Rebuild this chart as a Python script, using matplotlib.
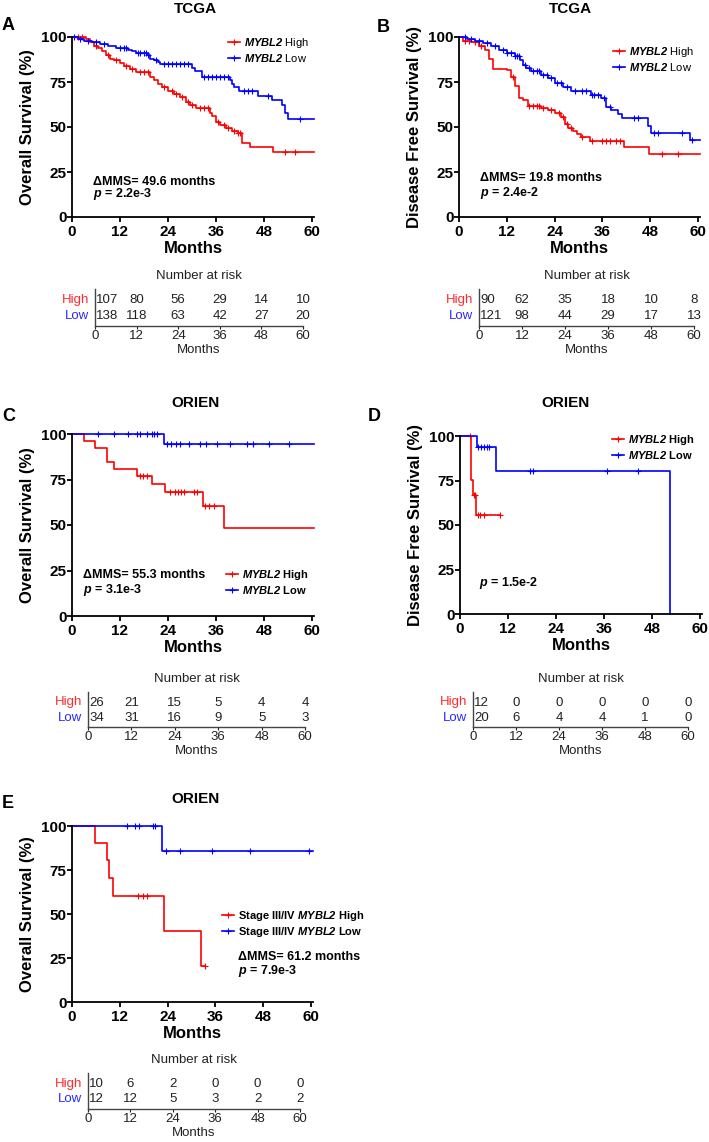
import numpy as np
import matplotlib
matplotlib.use('Agg')
import matplotlib.pyplot as plt
from matplotlib.lines import Line2D

plt.rcParams['font.family'] = ['Liberation Sans', 'DejaVu Sans']
plt.rcParams['mathtext.fontset'] = 'custom'
plt.rcParams['mathtext.rm'] = 'Liberation Sans:italic:bold'
plt.rcParams['mathtext.it'] = 'Liberation Sans:italic:bold'
plt.rcParams['mathtext.bf'] = 'Liberation Sans:italic:bold'

# ---- survival curves (time in months, survival %) ----
A_high_t = [0, 3.5, 4.5, 5.5, 6.5, 7.5, 8.5, 9.5, 10.5, 12, 13, 14.5, 16, 19.5, 20.5, 21.5, 22.5, 24, 25.5, 27,
            28.5, 29.5, 31, 34.5, 35, 36, 37, 38.5, 40, 41.5, 42.6, 44.6, 50.2, 60.5]
A_high_s = [100, 99, 97, 95, 94, 92, 90, 88, 87, 85.5, 84, 82, 80.5, 78, 76, 74, 72, 70, 68.5, 66.5,
            64, 62, 60.5, 58, 56, 53, 51, 49.3, 47.8, 46.8, 41.3, 38.7, 35.9, 35.9]
A_high_c = [1.5, 2.5, 6, 9, 11, 13.5, 15, 17, 18, 19, 23, 25, 26, 27.5, 29, 30, 32, 33, 34, 36.5, 38, 39,
            40.5, 41.5, 42, 53.2, 55.8]
A_low_t = [0, 1.5, 3, 5, 7, 9, 11, 14, 15, 16, 19, 19.5, 20.5, 21.5, 22, 30, 30.8, 32.4, 39.4, 40, 40.6, 41.8,
           46.5, 50.1, 52.5, 53.2, 54, 60.5]
A_low_s = [100, 99, 98, 97, 96, 95, 94, 93, 92, 91, 90, 88, 87, 86, 85, 83, 81, 78, 76, 74, 72, 70,
           67, 65, 62, 58, 54.3, 54.3]
A_low_c = [0.5, 2, 4, 6, 8, 12, 13, 13.5, 16.5, 17, 18, 18.5, 19, 21, 23, 24, 25, 26, 27, 28, 29, 33, 34, 35,
           36, 37, 38, 39, 43, 44, 45, 49, 57]

B_high_t = [0, 1, 3, 5, 6.5, 7.5, 8.5, 12, 13, 14, 15, 16, 17.3, 20.7, 22.3, 24, 25.7, 26.5, 27.4, 28.6, 29.5,
            30.7, 33, 41.4, 47.6, 60.5]
B_high_s = [100, 98, 97, 95, 93, 88, 82.5, 81.5, 78, 73, 66, 65, 61.7, 60.4, 59.5, 57.6, 55.8, 51.7, 49.3, 47.8,
            46, 44.6, 42, 39, 35, 35]
B_high_c = [1.5, 2.5, 4, 5.5, 13.5, 17.5, 18.5, 19.5, 20, 21, 23, 25, 26, 27, 28, 31, 33.5, 36, 37, 38, 39.5,
            40.5, 51, 55]
B_low_t = [0, 2, 4, 6, 8, 10, 12, 14, 15.2, 16, 16.9, 18.2, 20.7, 22.3, 24, 26, 28.2, 33.2, 35.7, 37, 38.2,
           39.9, 40.8, 47.4, 48.3, 57.9, 60.5]
B_low_s = [100, 99, 98, 96.5, 95, 93, 91, 89.5, 87.4, 84.6, 82.7, 80.9, 79, 77.1, 74.3, 72.5, 70, 67.8, 66,
           61.3, 59.5, 57, 54.8, 50.6, 46.5, 42.8, 42.8]
B_low_c = [1.5, 3, 5, 7, 9, 11, 12, 13, 14, 14.5, 15, 16.5, 17.5, 18.5, 19.5, 20, 21, 22, 23, 24.5, 25.5, 27,
           29, 31, 32, 33.5, 34, 35, 36.5, 38, 44, 45, 49, 50, 56, 58.5]

C_high_t = [0, 3.1, 5.8, 8.8, 10.4, 16.3, 20, 23.3, 32.7, 38.1, 60.5]
C_high_s = [100, 96.3, 92.3, 84.6, 80.9, 77, 72.4, 68, 60.5, 48.3, 48.3]
C_high_c = [17, 17.8, 18.7, 24.5, 25.7, 26.5, 27.2, 28, 30.4, 31.2, 33.3, 34.3, 35.4]
C_low_t = [0, 22.9, 60.5]
C_low_s = [100, 94.7, 94.7]
C_low_c = [6.6, 10.4, 14.1, 16.2, 17, 18.7, 20, 20.4, 21.2, 23.7, 24.7, 26, 27, 29.3, 32, 33.5, 36.2, 39.6,
           43.7, 45.2, 49.2, 54.2]

D_high_t = [0, 2.8, 3.2, 4.1, 10]
D_high_s = [100, 75.2, 67, 55.8, 55.8]
D_high_c = [2.4, 3.5, 3.8, 4.6, 5.1, 5.9, 10]
D_low_t = [0, 4.2, 9.05, 52.6]
D_low_s = [100, 93.8, 80.6, 0]
D_low_c = [4.6, 5.3, 6, 6.7, 7.3, 17.5, 18.3, 36.8, 44.6]

E_high_t = [0, 5.8, 8.85, 9.3, 10.35, 23, 32.4, 33.3]
E_high_s = [100, 90.4, 80.4, 70.4, 60.4, 40.2, 20.2, 20.2]
E_high_c = [16.6, 17.7, 18.9, 33.3]
E_low_t = [0, 22.5, 60.5]
E_low_s = [100, 85.7, 85.7]
E_low_c = [13.7, 15.8, 16.9, 20.4, 20.8, 23.5, 27, 35.1, 44.7, 59.6]

# ---- number at risk ----
risk_times = [0, 12, 24, 36, 48, 60]
A_risk_high = [107, 80, 56, 29, 14, 10]
A_risk_low = [138, 118, 63, 42, 27, 20]
B_risk_high = [90, 62, 35, 18, 10, 8]
B_risk_low = [121, 98, 44, 29, 17, 13]
C_risk_high = [26, 21, 15, 5, 4, 4]
C_risk_low = [34, 31, 16, 9, 5, 3]
D_risk_high = [12, 0, 0, 0, 0, 0]
D_risk_low = [20, 6, 4, 4, 1, 0]
E_risk_high = [10, 6, 2, 0, 0, 0]
E_risk_low = [12, 12, 5, 3, 2, 2]

RED = '#ff0000'
BLUE = '#0000ff'
W, H = 709, 1142
fig = plt.figure(figsize=(W / 100, H / 100), dpi=100)


def px_axes(x0, x1, ytop, ybot):
    return fig.add_axes([x0 / W, 1 - ybot / H, (x1 - x0) / W, (ybot - ytop) / H])


def ftext(x, y, s, **kw):
    fig.text(x / W, 1 - y / H, s, **kw)


def km(ax, t, s, cens, color):
    ax.step(t, s, where='post', color=color, lw=1.2, clip_on=False)
    t = np.asarray(t)
    s = np.asarray(s)
    idx = np.searchsorted(t, cens, side='right') - 1
    ax.plot(cens, s[idx], ls='none', marker='+', ms=4.5, mew=0.8, color=color, clip_on=False)


def panel(x0, x60, y100, y0, ylabel, curves, title, tpos, letter, lpos):
    xmax = 60.5
    ax = px_axes(x0, x0 + (x60 - x0) * xmax / 60, y100, y0)
    for t, s, c, col in curves:
        km(ax, t, s, c, col)
    ax.set_xlim(0, xmax)
    ax.set_ylim(0, 100)
    ax.set_xticks([0, 12, 24, 36, 48, 60])
    ax.set_yticks([0, 25, 50, 75, 100])
    for sp in ['top', 'right']:
        ax.spines[sp].set_visible(False)
    for sp in ['left', 'bottom']:
        ax.spines[sp].set_linewidth(1.3)
    ax.tick_params(direction='out', length=3.5, width=1.3, labelsize=11)
    ax.tick_params(axis='x', pad=2)
    ax.tick_params(axis='y', pad=0.5)
    for lab in ax.get_xticklabels() + ax.get_yticklabels():
        lab.set_fontweight('bold')
    ax.set_xlabel('Months', fontsize=12, fontweight='bold', labelpad=2)
    ax.set_ylabel(ylabel, fontsize=12, fontweight='bold', labelpad=4)
    ftext(tpos[0], tpos[1], title, fontsize=11, fontweight='bold', ha='center', va='center')
    ftext(lpos[0], lpos[1], letter, fontsize=13, fontweight='bold', ha='left', va='center')
    return ax


def legend(ax, labels, x, y, bold):
    handles = [Line2D([], [], color=RED, lw=1.2, marker='+', ms=4.5, mew=0.8),
               Line2D([], [], color=BLUE, lw=1.2, marker='+', ms=4.5, mew=0.8)]
    ax.legend(handles, labels, loc='upper left', bbox_to_anchor=(x / W, 1 - y / H),
              bbox_transform=fig.transFigure, frameon=False, handlelength=1.1,
              handletextpad=0.3, labelspacing=0.15, borderpad=0, borderaxespad=0,
              prop={'size': 8, 'weight': 'bold' if bold else 'normal'})


def risk(x0, x60, ytop, yline, high, low):
    ax = px_axes(x0, x60, ytop, yline)
    ax.set_xlim(0, 60)
    ax.set_ylim(0, 1)
    for sp in ['top', 'right']:
        ax.spines[sp].set_visible(False)
    for sp in ['left', 'bottom']:
        ax.spines[sp].set_color('#444444')
        ax.spines[sp].set_linewidth(1.0)
    ax.set_yticks([])
    ax.set_xticks(risk_times)
    ax.tick_params(axis='x', length=2, pad=1, labelsize=9.5, colors='#222222')
    ax.set_xlabel('Months', fontsize=9.5, labelpad=1, color='#222222')
    for yy, vals in [(0.70, high), (0.27, low)]:
        for i, (tt, v) in enumerate(zip(risk_times, vals)):
            if i == 0:
                ax.text(tt + 0.4, yy, str(v), ha='left', va='center', fontsize=9.5, color='#222222')
            else:
                ax.text(tt, yy, str(v), ha='center', va='center', fontsize=9.5, color='#222222')
    ax.annotate('High', xy=(0, 0.70), xycoords='axes fraction', xytext=(-4, 0),
                textcoords='offset points', ha='right', va='center', fontsize=9.5, color='#ff2a2a')
    ax.annotate('Low', xy=(0, 0.27), xycoords='axes fraction', xytext=(-4, 0),
                textcoords='offset points', ha='right', va='center', fontsize=9.5, color='#2a2aff')
    ax.text(0.5, 1.36, 'Number at risk', transform=ax.transAxes, ha='center', va='center',
            fontsize=9.5, color='#222222')
    return ax


lab_hi = r'$MYBL2$ High'
lab_lo = r'$MYBL2$ Low'

# A
axA = panel(72, 312, 37, 217, 'Overall Survival (%)',
            [(A_high_t, A_high_s, A_high_c, RED), (A_low_t, A_low_s, A_low_c, BLUE)],
            'TCGA', (195, 9), 'A', (2, 26))
legend(axA, [lab_hi, lab_lo], 228, 36, False)
ftext(93, 182, '\u0394MMS= 49.6 months', fontsize=9, fontweight='bold', va='center')
ftext(93, 194, r'$p$ = 2.2e-3', fontsize=9, fontweight='bold', va='center')
risk(95, 303, 289, 326, A_risk_high, A_risk_low)

# B
axB = panel(459, 698, 37, 217, 'Disease Free Survival (%)',
            [(B_high_t, B_high_s, B_high_c, RED), (B_low_t, B_low_s, B_low_c, BLUE)],
            'TCGA', (570, 9), 'B', (377, 27))
legend(axB, [lab_hi, lab_lo], 613, 45, False)
ftext(480, 178, '\u0394MMS= 19.8 months', fontsize=9, fontweight='bold', va='center')
ftext(480, 193, r'$p$ = 2.4e-2', fontsize=9, fontweight='bold', va='center')
risk(479, 694, 289, 326, B_risk_high, B_risk_low)

# C
axC = panel(72, 312, 434, 616, 'Overall Survival (%)',
            [(C_high_t, C_high_s, C_high_c, RED), (C_low_t, C_low_s, C_low_c, BLUE)],
            'ORIEN', (195, 403), 'C', (2, 417))
legend(axC, [lab_hi, lab_lo], 226, 568, True)
ftext(83, 575, '\u0394MMS= 55.3 months', fontsize=9, fontweight='bold', va='center')
ftext(83, 590, r'$p$ = 3.1e-3', fontsize=9, fontweight='bold', va='center')
risk(88, 305, 692, 727, C_risk_high, C_risk_low)

# D
axD = panel(460, 700, 436, 614, 'Disease Free Survival (%)',
            [(D_high_t, D_high_s, D_high_c, RED), (D_low_t, D_low_s, D_low_c, BLUE)],
            'ORIEN', (565, 403), 'D', (368, 417))
legend(axD, [lab_hi, lab_lo], 612, 433, True)
ftext(479, 583, r'$p$ = 1.5e-2', fontsize=9, fontweight='bold', va='center')
risk(473, 688, 692, 727, D_risk_high, D_risk_low)

# E
axE = panel(72, 311, 826, 1002, 'Overall Survival (%)',
            [(E_high_t, E_high_s, E_high_c, RED), (E_low_t, E_low_s, E_low_c, BLUE)],
            'ORIEN', (195, 799), 'E', (2, 803))
legend(axE, [r'Stage III/IV $MYBL2$ High', r'Stage III/IV $MYBL2$ Low'], 222, 909, True)
ftext(238, 957, '\u0394MMS= 61.2 months', fontsize=9, fontweight='bold', va='center')
ftext(238, 971, r'$p$ = 7.9e-3', fontsize=9, fontweight='bold', va='center')
risk(88, 300, 1073, 1109, E_risk_high, E_risk_low)

fig.savefig('out.png', dpi=100)
